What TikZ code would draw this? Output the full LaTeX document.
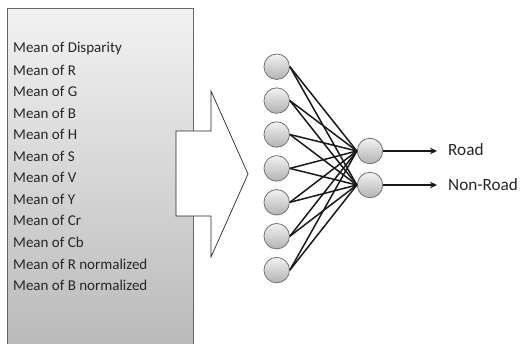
\documentclass[tikz,border=0pt]{standalone}
\usepackage{fontspec}
\setmainfont{Carlito}
\usetikzlibrary{arrows.meta}
\begin{document}
\begin{tikzpicture}[x=1pt,y=-1pt,
  feature/.style={anchor=west,inner sep=0pt,font=\fontsize{15}{18}\selectfont,text=black!85},
  neuron/.style={circle,minimum size=25.5pt,inner sep=0pt,draw=black!55,line width=0.8pt,
    top color=black!5,bottom color=black!30},
  link/.style={draw=black!90,line width=1.5pt},
  outarrow/.style={draw=black!90,line width=1.4pt,-{Stealth[length=7pt,width=6.5pt]}},
  label/.style={anchor=west,inner sep=0pt,font=\fontsize{17.2}{20}\selectfont,text=black!85}]
\useasboundingbox (0,0) rectangle (521,343);

% feature panel with vertical gradient
\shade[top color=black!5,bottom color=black!27] (7,8) rectangle (193,345);
\draw[black!60,line width=0.8pt] (7,345) -- (7,8) -- (193,8) -- (193,345);

% feature names
\foreach \t [count=\k from 0] in {Mean of Disparity,Mean of R,Mean of G,Mean of B,Mean of H,
  Mean of S,Mean of V,Mean of Y,Mean of Cr,Mean of Cb,Mean of R normalized,Mean of B normalized}
  \node[feature] (f\k) at (13,{48.5+21.55*\k}) {\t};

% block arrow into the network
\draw[fill=white,draw=black!85,line width=0.7pt]
  (176,131) -- (211,131) -- (211,91) -- (248,174) -- (211,257) -- (211,216) -- (176,216) -- cycle;

% input layer
\foreach \k in {1,...,7}
  \node[neuron] (in\k) at (276.7,{66.7+33.9*(\k-1)}) {};

% output layer
\node[neuron] (o1) at (370,151) {};
\node[neuron] (o2) at (370,185) {};

% full connections
\foreach \k in {1,...,7}{
  \draw[link] (in\k.east) -- (o1.west);
  \draw[link] (in\k.east) -- (o2.west);
}

% class labels
\coordinate (e1) at (437,151);
\coordinate (e2) at (437,185);
\draw[outarrow] (o1.east) -- (e1);
\draw[outarrow] (o2.east) -- (e2);
\node[label] (road) at (448,149.5) {Road};
\node[label] (nonroad) at (448,184.5) {Non-Road};
\end{tikzpicture}
\end{document}
